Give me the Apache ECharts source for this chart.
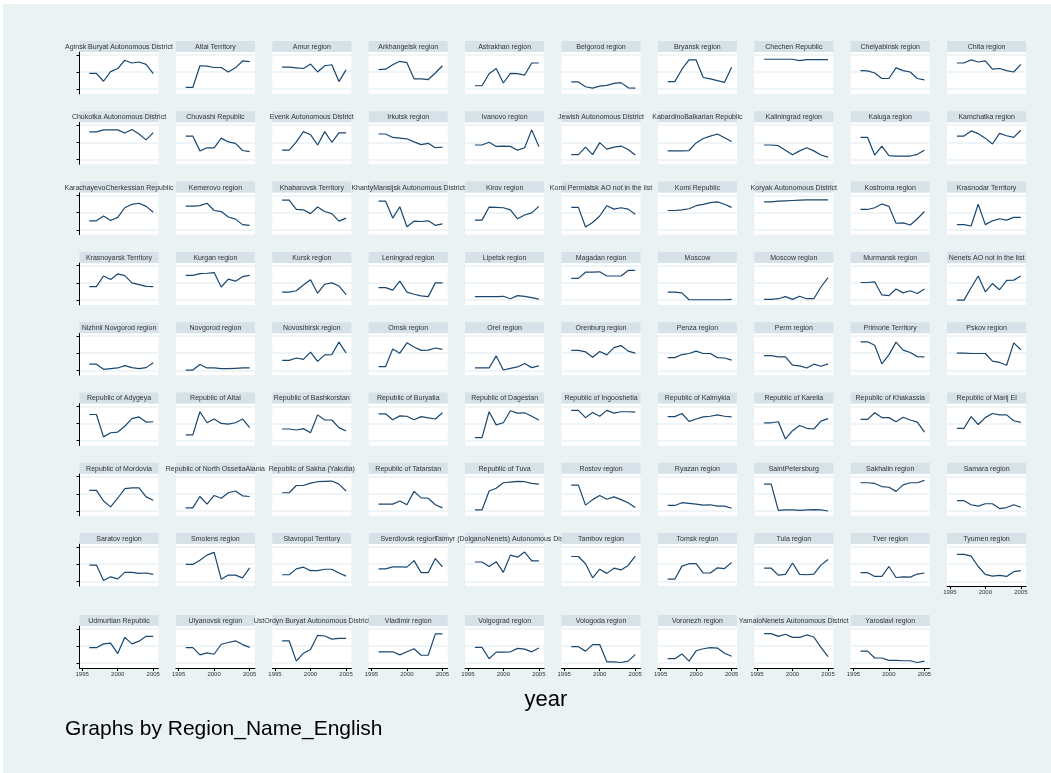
<!DOCTYPE html>
<html><head><meta charset="utf-8">
<script src="https://cdn.jsdelivr.net/npm/echarts@6/dist/echarts.min.js"></script>
<style>html,body{margin:0;padding:0;background:#fff}#c{width:1051px;height:773px}</style>
</head><body><div id="c"></div>
<script>
const years = [1996,1997,1998,1999,2000,2001,2002,2003,2004,2005];
const xTicks = [1995, 2000, 2005];
const yTicks = [0, 0.5, 1];
const regions = [
 "Aginsk Buryat Autonomous District","Altai Territory","Amur region","Arkhangelsk region","Astrakhan region","Belgorod region","Bryansk region","Chechen Republic","Chelyabinsk region","Chita region",
 "Chukotka Autonomous District","Chuvashi Republic","Evenk Autonomous District","Irkutsk region","Ivanovo region","Jewish Autonomous District","KabardinoBalkarian Republic","Kaliningrad region","Kaluga region","Kamchatka region",
 "KarachayevoCherkessian Republic","Kemerovo region","Khabarovsk Territory","KhantyMansijsk Autonomous District","Kirov region","Komi Permiatsk AO not in the list","Komi Republic","Koryak Autonomous District","Kostroma region","Krasnodar Territory",
 "Krasnoyarsk Territory","Kurgan region","Kursk region","Leningrad region","Lipetsk region","Magadan region","Moscow","Moscow region","Murmansk region","Nenets AO not in the list",
 "Nizhnii Novgorod region","Novgorod region","Novosibirsk region","Omsk region","Orel region","Orenburg region","Penza region","Perm region","Primorie Territory","Pskov region",
 "Republic of Adygeya","Republic of Altai","Republic of Bashkorstan","Republic of Buryatia","Republic of Dagestan","Republic of Ingooshetia","Republic of Kalmykia","Republic of Karelia","Republic of Khakassia","Republic of Marij El",
 "Republic of Mordovia","Republic of North OssetiaAlania","Republic of Sakha (Yakutia)","Republic of Tatarstan","Republic of Tuva","Rostov region","Ryazan region","SaintPetersburg","Sakhalin region","Samara region",
 "Saratov region","Smolens region","Stavropol Territory","Sverdlovsk region","Taimyr (DolganoNenets) Autonomous District","Tambov region","Tomsk region","Tula region","Tver region","Tyumen region",
 "Udmurtian Republic","Ulyanovsk region","UstOrdyn Buryat Autonomous District","Vladimir region","Volgograd region","Vologoda region","Voronezh region","YamaloNenets Autonomous District","Yaroslavl region"
];
const row1 = [
 [0.46,0.46,0.23,0.51,0.60,0.84,0.76,0.79,0.72,0.45],
 [0.05,0.05,0.68,0.67,0.63,0.63,0.50,0.62,0.82,0.80],
 [0.64,0.64,0.62,0.60,0.73,0.50,0.68,0.71,0.22,0.56],
 [0.57,0.58,0.71,0.81,0.77,0.30,0.30,0.28,0.47,0.68],
 [0.10,0.10,0.45,0.60,0.18,0.46,0.45,0.41,0.76,0.76],
 [0.21,0.21,0.07,0.03,0.09,0.11,0.17,0.19,0.04,0.03],
 [0.22,0.22,0.58,0.85,0.85,0.34,0.30,0.25,0.20,0.64],
 [0.87,0.87,0.87,0.87,0.87,0.83,0.86,0.86,0.86,0.86],
 [0.54,0.53,0.47,0.31,0.31,0.62,0.54,0.50,0.31,0.27],
 [0.76,0.76,0.85,0.79,0.82,0.58,0.60,0.54,0.50,0.72]
];
const row2 = [
 [0.80,0.80,0.86,0.86,0.86,0.77,0.87,0.74,0.57,0.78],
 [0.68,0.68,0.25,0.34,0.34,0.62,0.51,0.47,0.26,0.23],
 [0.27,0.27,0.51,0.81,0.72,0.42,0.81,0.50,0.77,0.77],
 [0.74,0.74,0.64,0.62,0.60,0.51,0.43,0.47,0.34,0.36],
 [0.42,0.42,0.50,0.38,0.39,0.38,0.27,0.34,0.86,0.38],
 [0.14,0.14,0.36,0.14,0.49,0.30,0.36,0.39,0.29,0.13],
 [0.25,0.25,0.25,0.26,0.48,0.61,0.68,0.74,0.63,0.52],
 [0.42,0.42,0.40,0.27,0.14,0.25,0.34,0.25,0.13,0.07],
 [0.64,0.64,0.13,0.39,0.11,0.10,0.10,0.10,0.15,0.27],
 [0.68,0.68,0.83,0.75,0.62,0.45,0.76,0.69,0.64,0.85]
];
const row3 = [
 [0.26,0.26,0.40,0.27,0.36,0.64,0.74,0.77,0.68,0.51],
 [0.69,0.69,0.70,0.77,0.56,0.53,0.37,0.31,0.15,0.13],
 [0.86,0.86,0.59,0.58,0.47,0.66,0.53,0.47,0.25,0.34],
 [0.83,0.83,0.34,0.67,0.09,0.25,0.24,0.26,0.13,0.17],
 [0.28,0.28,0.66,0.65,0.64,0.58,0.32,0.43,0.49,0.68],
 [0.65,0.65,0.08,0.21,0.40,0.70,0.60,0.64,0.60,0.45],
 [0.56,0.56,0.58,0.61,0.70,0.74,0.79,0.81,0.74,0.65],
 [0.81,0.81,0.83,0.84,0.85,0.86,0.87,0.87,0.87,0.87],
 [0.59,0.59,0.64,0.75,0.68,0.19,0.20,0.14,0.32,0.53],
 [0.15,0.15,0.11,0.74,0.15,0.26,0.32,0.28,0.36,0.36]
];
const row4 = [
 [0.39,0.39,0.70,0.60,0.76,0.71,0.50,0.45,0.40,0.39],
 [0.72,0.72,0.77,0.78,0.80,0.38,0.61,0.55,0.68,0.72],
 [0.23,0.23,0.27,0.44,0.59,0.20,0.46,0.50,0.41,0.16],
 [0.36,0.36,0.29,0.55,0.23,0.17,0.12,0.10,0.50,0.50],
 [0.10,0.10,0.10,0.10,0.11,0.04,0.13,0.11,0.07,0.03],
 [0.63,0.63,0.81,0.81,0.82,0.70,0.70,0.70,0.86,0.86],
 [0.23,0.23,0.21,0.01,0.01,0.01,0.01,0.01,0.01,0.02],
 [0.02,0.02,0.04,0.10,0.02,0.11,0.04,0.04,0.38,0.65],
 [0.51,0.51,0.53,0.15,0.13,0.32,0.21,0.27,0.19,0.32],
 [0.00,0.00,0.36,0.70,0.24,0.48,0.30,0.57,0.58,0.70]
];
const row5 = [
 [0.18,0.18,0.03,0.05,0.07,0.14,0.08,0.05,0.08,0.22],
 [0.01,0.01,0.17,0.07,0.07,0.05,0.05,0.06,0.07,0.07],
 [0.29,0.29,0.36,0.32,0.53,0.26,0.45,0.46,0.82,0.51],
 [0.11,0.11,0.62,0.50,0.80,0.68,0.58,0.59,0.65,0.61],
 [0.07,0.07,0.07,0.42,0.01,0.06,0.10,0.20,0.08,0.13],
 [0.58,0.58,0.54,0.38,0.55,0.45,0.66,0.72,0.56,0.50],
 [0.37,0.37,0.46,0.49,0.56,0.49,0.49,0.37,0.36,0.30],
 [0.43,0.43,0.39,0.39,0.15,0.13,0.07,0.18,0.12,0.19],
 [0.83,0.83,0.73,0.19,0.45,0.82,0.59,0.52,0.40,0.39],
 [0.50,0.50,0.49,0.49,0.49,0.27,0.23,0.15,0.80,0.60]
];
const row6 = [
 [0.76,0.76,0.11,0.23,0.25,0.42,0.64,0.69,0.54,0.55],
 [0.17,0.17,0.84,0.52,0.63,0.50,0.48,0.52,0.63,0.38],
 [0.34,0.34,0.31,0.35,0.23,0.75,0.60,0.60,0.38,0.28],
 [0.78,0.78,0.61,0.72,0.71,0.61,0.70,0.66,0.63,0.81],
 [0.09,0.09,0.84,0.46,0.52,0.87,0.80,0.81,0.71,0.60],
 [0.88,0.88,0.67,0.82,0.71,0.88,0.80,0.84,0.84,0.83],
 [0.70,0.70,0.79,0.56,0.63,0.69,0.71,0.75,0.71,0.69],
 [0.52,0.52,0.55,0.05,0.29,0.44,0.36,0.34,0.57,0.64],
 [0.62,0.62,0.81,0.67,0.67,0.55,0.68,0.60,0.54,0.25],
 [0.36,0.36,0.70,0.47,0.67,0.79,0.75,0.75,0.58,0.53]
];
const row7 = [
 [0.60,0.60,0.29,0.12,0.37,0.65,0.67,0.67,0.41,0.31],
 [0.09,0.09,0.42,0.20,0.45,0.37,0.53,0.58,0.44,0.42],
 [0.53,0.53,0.74,0.74,0.81,0.85,0.86,0.87,0.78,0.58],
 [0.20,0.20,0.20,0.29,0.18,0.57,0.38,0.37,0.18,0.09],
 [0.03,0.03,0.58,0.66,0.82,0.84,0.86,0.85,0.80,0.78],
 [0.75,0.75,0.17,0.33,0.45,0.34,0.41,0.33,0.24,0.10],
 [0.16,0.16,0.24,0.22,0.20,0.17,0.18,0.14,0.14,0.08],
 [0.78,0.78,0.02,0.03,0.03,0.02,0.03,0.04,0.03,0.00],
 [0.82,0.82,0.80,0.71,0.69,0.57,0.76,0.82,0.82,0.89],
 [0.30,0.30,0.18,0.14,0.21,0.21,0.07,0.10,0.18,0.11]
];
const row8 = [
 [0.47,0.47,0.02,0.13,0.07,0.26,0.26,0.23,0.24,0.20],
 [0.49,0.49,0.61,0.76,0.84,0.06,0.18,0.18,0.10,0.39],
 [0.19,0.19,0.36,0.41,0.31,0.31,0.35,0.35,0.24,0.15],
 [0.36,0.36,0.42,0.42,0.41,0.60,0.25,0.25,0.66,0.42],
 [0.56,0.56,0.43,0.57,0.26,0.76,0.70,0.85,0.59,0.59],
 [0.72,0.72,0.51,0.10,0.35,0.23,0.38,0.33,0.46,0.73],
 [0.06,0.06,0.44,0.51,0.51,0.24,0.24,0.39,0.37,0.55],
 [0.38,0.38,0.18,0.20,0.53,0.20,0.19,0.21,0.47,0.63],
 [0.25,0.25,0.14,0.14,0.43,0.11,0.13,0.12,0.21,0.24],
 [0.78,0.78,0.73,0.43,0.20,0.15,0.17,0.14,0.28,0.31]
];
const row9 = [
 [0.45,0.45,0.56,0.58,0.28,0.75,0.56,0.64,0.78,0.78],
 [0.45,0.45,0.24,0.30,0.26,0.55,0.60,0.65,0.54,0.46],
 [0.65,0.65,0.06,0.29,0.40,0.81,0.79,0.70,0.72,0.72],
 [0.33,0.33,0.33,0.24,0.33,0.42,0.23,0.23,0.85,0.85],
 [0.46,0.46,0.13,0.32,0.32,0.33,0.43,0.41,0.33,0.44],
 [0.48,0.48,0.35,0.54,0.54,0.04,0.04,0.02,0.06,0.25],
 [0.13,0.13,0.27,0.06,0.36,0.42,0.45,0.44,0.29,0.20],
 [0.86,0.86,0.78,0.84,0.75,0.75,0.82,0.76,0.46,0.19],
 [0.35,0.35,0.15,0.15,0.08,0.08,0.07,0.07,0.02,0.06]
];

const allVals = [].concat(row1,row2,row3,row4,row5,row6,row7,row8,row9);
const FONT = "'Liberation Sans', Arial, sans-serif";
const PW = 79, HH = 11, PH = 42;
const colX = c => 79.5 + c * 96.4;
const rowY = r => r < 8 ? 41 + r * 70.3 : 615;

const grids = [], xAxes = [], yAxes = [], series = [];
const graphics = [
  {type:'rect', shape:{x:0,y:0,width:1051,height:4}, style:{fill:'#ffffff'}, z:1},
  {type:'rect', shape:{x:0,y:0,width:3,height:773}, style:{fill:'#ffffff'}, z:1}
];
regions.forEach((name, i) => {
  const r = Math.floor(i / 10), c = i % 10;
  const x = colX(c), y = rowY(r);
  const bottom = (r === 8) || (r === 7 && c === 9);
  grids.push({left: x, top: y + HH, width: PW, height: PH, show: true, backgroundColor: '#ffffff', borderWidth: 0});
  xAxes.push({
    type: 'value', gridIndex: i, min: 1994.62, max: 2005.74,
    axisLine: {show: bottom, onZero: false, lineStyle: {color: '#000', width: 1}},
    axisTick: {show: bottom, customValues: xTicks, length: 3, lineStyle: {color: '#000', width: 1}},
    axisLabel: {show: bottom, customValues: xTicks, fontSize: 6, margin: 3, color: '#333', fontFamily: FONT,
      formatter: v => String(Math.round(v))},
    splitLine: {show: false}
  });
  yAxes.push({
    type: 'value', gridIndex: i, min: -0.14, max: 1.08,
    axisLine: {show: c === 0, lineStyle: {color: '#000', width: 1}},
    axisTick: {show: c === 0, customValues: yTicks, length: 3, lineStyle: {color: '#000', width: 1}},
    axisLabel: {show: false},
    splitLine: {show: true, lineStyle: {color: '#eaf2f3', width: 1.5}}
  });
  series.push({
    type: 'line', xAxisIndex: i, yAxisIndex: i,
    data: years.map((yr, k) => [yr, allVals[i][k]]),
    symbol: 'none', showSymbol: false, silent: true,
    lineStyle: {color: '#1a476f', width: 1.2}
  });
  graphics.push({type:'rect', shape:{x: x, y: y, width: PW, height: HH}, style:{fill:'#d6e2e8'}, z: 100 + 2*i});
  graphics.push({type:'text', x: x + PW/2, y: y + HH/2 + 0.5, z: 101 + 2*i,
    style:{text: name, fill:'#333', font: '7px ' + FONT, textAlign:'center', textVerticalAlign:'middle'}});
});
graphics.push({type:'text', x: 546, y: 700, z: 400, style:{text:'year', fill:'#000', font:'22px ' + FONT, textAlign:'center', textVerticalAlign:'middle'}});
graphics.push({type:'text', x: 65, y: 729, z: 400, style:{text:'Graphs by Region_Name_English', fill:'#000', font:'21px ' + FONT, textAlign:'left', textVerticalAlign:'middle'}});

const chart = echarts.init(document.getElementById('c'), null, {renderer: 'canvas'});
chart.setOption({
  backgroundColor: '#eaf2f3',
  animation: false,
  grid: grids, xAxis: xAxes, yAxis: yAxes, series: series,
  graphic: {elements: graphics}
});
</script></body></html>
